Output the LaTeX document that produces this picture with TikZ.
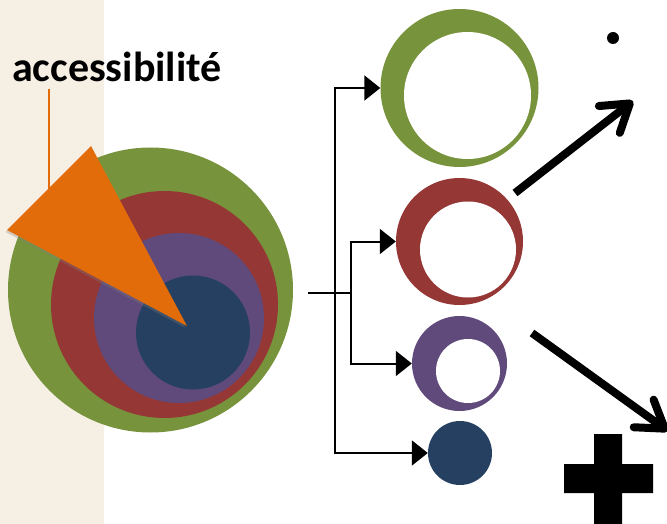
\documentclass[tikz,border=0pt]{standalone}
\usepackage{fontspec}
\setmainfont{Carlito}
\usetikzlibrary{arrows.meta,shadows}
\definecolor{beige}{HTML}{F6EFE3}
\definecolor{cgreen}{HTML}{77933C}
\definecolor{cred}{HTML}{953735}
\definecolor{cpurple}{HTML}{604A7B}
\definecolor{cnavy}{HTML}{254061}
\definecolor{corange}{HTML}{E36C0A}
\tikzset{
  disc/.style={circle,inner sep=0pt,minimum size=#1,draw=none},
  conn/.style={line width=2pt,black},
  connarr/.style={conn,-{Triangle[length=16pt,width=25pt]}},
  bigarr/.style={line width=8pt,black,-{Straight Barb[length=26pt,width=34pt,line cap=round,line join=round]}},
}
\begin{document}
\begin{tikzpicture}[x=1pt,y=-1pt]
\useasboundingbox (0,0) rectangle (667,524);
\fill[beige] (0,0) rectangle (104,524);
% label
\node[anchor=base west,inner sep=0pt,font=\fontsize{42}{44}\selectfont\bfseries] (lab) at (12,82) {accessibilité};
\coordinate (l1) at (49,89);
\coordinate (l2) at (49,195);
\draw[corange,line width=1.5pt] (l1) -- (l2);
% concentric discs
\node[disc=285pt,fill=cgreen] (G) at (150.5,290) {};
\node[disc=227pt,fill=cred] (R) at (164.5,304.5) {};
\node[disc=170pt,fill=cpurple] (P) at (179,318) {};
\node[disc=114pt,fill=cnavy] (N) at (193,332.5) {};
% orange wedge
\fill[corange,drop shadow={shadow xshift=-1.5pt,shadow yshift=-2pt,opacity=0.3}] (91,146) -- (7,230) -- (187,326) -- cycle;
% right rings
\node[disc=158pt,fill=cgreen] (g2) at (459.5,88) {};
\node[disc=127pt,fill=white] (g2i) at (467.5,95.5) {};
\node[disc=127pt,fill=cred] (r2) at (459.5,241.5) {};
\node[disc=96pt,fill=white] (r2i) at (468,249.5) {};
\node[disc=95pt,fill=cpurple] (p2) at (459.5,363.5) {};
\node[disc=64pt,fill=white] (p2i) at (468,371) {};
\node[disc=64pt,fill=cnavy] (n2) at (460,453) {};
% connectors
\coordinate (src) at (308,293);
\coordinate (j1) at (335,293);
\coordinate (j2) at (351,293);
\draw[conn] (src) -- (j2);
\draw[connarr] (j1) |- (g2.west);
\draw[connarr] (j1) |- (n2.west);
\draw[connarr] (j2) |- (r2.west);
\draw[connarr] (j2) |- (p2.west);
% big arrows
\coordinate (u1) at (515,193);
\coordinate (u2) at (633,101);
\coordinate (d1) at (532,333);
\coordinate (d2) at (668,431);
\draw[bigarr] (u1) -- (u2);
\draw[bigarr] (d1) -- (d2);
% dot and plus
\fill[black] (613,38) circle (6);
\fill[black] (594,434) -- (622,434) -- (622,464) -- (653,464) -- (653,493) -- (622,493) -- (622,524) -- (594,524) -- (594,493) -- (564,493) -- (564,464) -- (594,464) -- cycle;
\end{tikzpicture}
\end{document}
